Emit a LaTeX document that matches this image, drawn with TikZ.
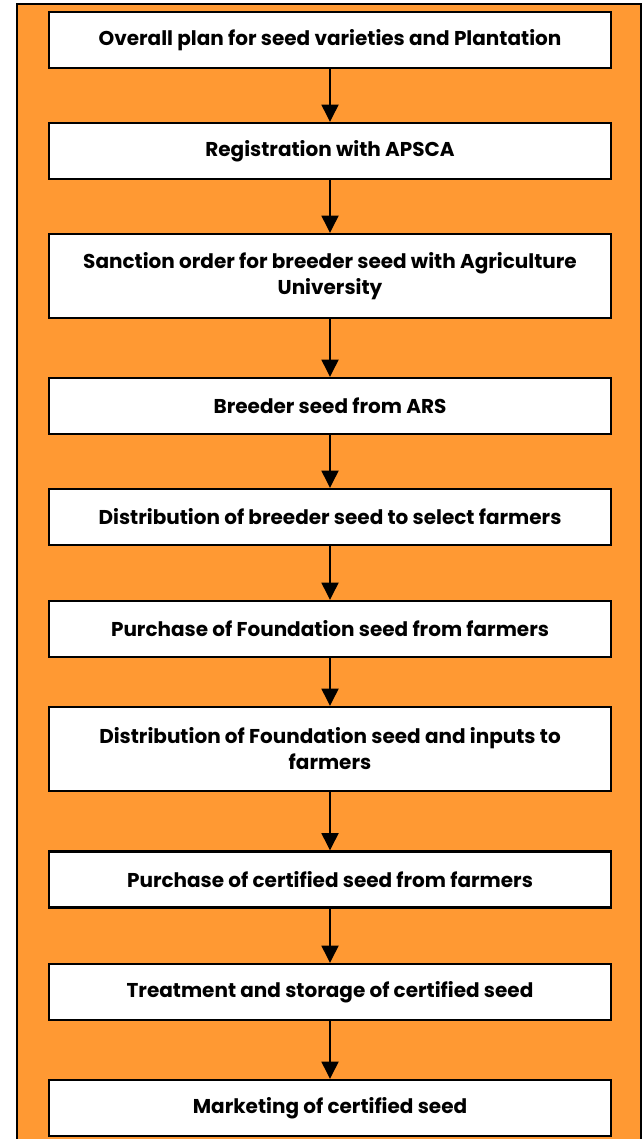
\documentclass[tikz,border=0pt]{standalone}
\usepackage{fontspec}
\setmainfont{Poppins}
\usetikzlibrary{arrows.meta}
\definecolor{bgorange}{RGB}{255,153,51}
\tikzset{
  stepbox/.style={draw=black, line width=1.6pt, fill=white, minimum width=421.5pt,
    minimum height=42pt, inner sep=2pt, align=center, font=\bfseries\fontsize{15}{19.5}\selectfont},
  tallbox/.style={stepbox, minimum height=63pt},
  flowarrow/.style={line width=2.2pt, -{Triangle[length=13pt,width=12.5pt]}}
}
\begin{document}
\begin{tikzpicture}[x=0.75pt,y=-0.75pt]
\useasboundingbox (0,0) rectangle (642,1139);
\clip (0,0) rectangle (642,1139);
\fill[white] (0,0) rectangle (642,1139);
\filldraw[fill=bgorange, draw=black, line width=1.2pt] (17,4) rectangle (641,1150);
\node[stepbox] (b1) at (330,40) {Overall plan for seed varieties and Plantation};
\node[stepbox] (b2) at (330,151) {Registration with APSCA};
\node[tallbox] (b3) at (330,276) {Sanction order for breeder seed with Agriculture\\University};
\node[stepbox] (b4) at (330,406) {Breeder seed from ARS};
\node[stepbox] (b5) at (330,517) {Distribution of breeder seed to select farmers};
\node[stepbox] (b6) at (330,629) {Purchase of Foundation seed from farmers};
\node[tallbox] (b7) at (330,749) {Distribution of Foundation seed and inputs to\\farmers};
\node[stepbox] (b8) at (330,879.5) {Purchase of certified seed from farmers};
\node[stepbox] (b9) at (330,992) {Treatment and storage of certified seed};
\node[stepbox] (b10) at (330,1108) {Marketing of certified seed};
\foreach \a/\b in {b1/b2,b2/b3,b3/b4,b4/b5,b5/b6,b6/b7,b7/b8,b8/b9,b9/b10}
  \draw[flowarrow] (\a.south) -- (\b.north);
\end{tikzpicture}
\end{document}
